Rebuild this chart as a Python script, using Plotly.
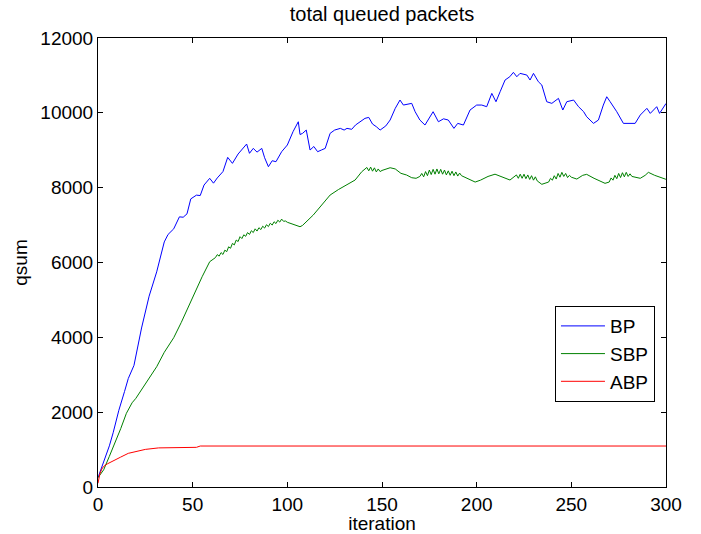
import plotly.graph_objects as go

# BP
bp_x = [0, 3, 6, 8, 11, 14, 16, 19, 23, 27, 31, 35, 37, 40, 43, 45, 47, 49, 52, 54, 56, 59, 61, 63, 66,
        68.5, 71, 74, 77, 78.5, 80, 82, 84, 86.5, 88, 90, 92, 94, 97, 100, 103, 105.8, 106.7, 108, 110,
        112, 114, 116, 118, 120, 122.6, 125, 128, 130, 131.5, 134, 136, 138.5, 141, 143, 145, 147, 149,
        152, 154.3, 157, 159.5, 161.3, 163, 165.7, 167.5, 170, 172.7, 175.4, 177, 179.8, 182.5, 185, 188,
        190, 193, 196.5, 200, 202.7, 205.3, 208, 210.2, 212.4, 215, 217.5, 219.4, 221.2, 222.9, 226.5,
        228.2, 230, 232.6, 234.4, 237, 239.7, 243.2, 245.5, 247.6, 251.2, 253.8, 256.5, 258.1, 261.7,
        264.3, 266.9, 268.7, 270.5, 274, 277.5, 283.7, 286.4, 289.9, 291.7, 295.1, 296.6, 299.6, 300]
bp_y = [250, 650, 1100, 1450, 2050, 2550, 2900, 3250, 4250, 5100, 5750, 6550, 6750, 6900, 7220, 7210, 7300,
        7700, 7800, 7790, 8070, 8250, 8120, 8260, 8430, 8810, 8650, 8900, 9094, 9166, 8918, 9050, 8950,
        9050, 8800, 8560, 8720, 8694, 8961, 9140, 9495, 9762, 9420, 9450, 9540, 9006, 9100, 8961, 9006,
        9050, 9452, 9540, 9585, 9540, 9585, 9560, 9674, 9762, 9852, 9878, 9700, 9630, 9540, 9650, 9808,
        10120, 10342, 10208, 10230, 10253, 10030, 9808, 9674, 9896, 10030, 9762, 9840, 9808, 9585, 9718,
        9674, 10075, 10208, 10208, 10164, 10520, 10297, 10565, 10877, 10965, 11082, 10965, 11055, 11010,
        10877, 11055, 10831, 10743, 10297, 10253, 10386, 10075, 10297, 10342, 10164, 10030, 9896, 9718,
        9808, 10208, 10430, 10297, 10030, 9718, 9718, 9941, 10120, 9985, 10164, 9985, 10253, 10250]

# SBP
sbp_x = [0, 3, 6, 9, 12, 15, 18, 20, 23, 26, 31, 35, 40, 44, 48.6, 52, 55, 59, 62,
         63, 64, 65, 66, 67, 68, 69, 70, 71, 72, 73, 74, 75, 76, 77, 78, 79, 80, 81, 82, 83, 84, 85, 86,
         87, 88, 89, 90, 91, 92, 93, 94, 95, 96, 97, 98, 99, 100,
         106.7, 108, 113.7, 117.3, 122.6, 127, 131.4, 135.8, 139.3,
         142, 143, 144, 145, 146, 147, 148, 149, 150, 154.3, 157, 160, 163, 165.7, 168, 170,
         171, 172, 173, 174, 175, 176, 177, 178, 179, 180, 181, 182, 183, 184, 185, 186, 187, 188, 189,
         190, 191, 192, 195, 199.2, 202, 206, 209.7, 213, 217.6,
         221, 222, 223, 224, 225, 226, 227, 228, 229, 230, 231, 232, 234.4,
         238, 239, 240, 241, 242, 243, 244, 245, 246, 247, 248, 249, 250, 252.9, 256, 258.1, 262, 267.8,
         270, 271, 272, 273, 274, 275, 276, 277, 278, 279, 280, 281, 282, 286.4, 289, 290.7, 294, 299.6, 300]
sbp_y = [250, 460, 820, 1170, 1560, 1970, 2250, 2370, 2600, 2820, 3215, 3600, 3990, 4400, 4909, 5300, 5620,
         6021, 6130,
         6210, 6170, 6265, 6215, 6330, 6290, 6420, 6380, 6510, 6470, 6600, 6560, 6690, 6640, 6740, 6700,
         6800, 6750, 6850, 6800, 6900, 6840, 6930, 6880, 6970, 6920, 7010, 6960, 7050, 7000, 7090, 7040,
         7130, 7080, 7160, 7100, 7110, 7075,
         6956, 6990, 7269, 7490, 7803, 7950, 8070, 8204, 8426,
         8540, 8450, 8550, 8440, 8530, 8420, 8500, 8430, 8460, 8533, 8500, 8383, 8338, 8266, 8250, 8300,
         8380, 8290, 8430, 8320, 8470, 8350, 8490, 8360, 8500, 8370, 8490, 8360, 8470, 8340, 8450, 8330,
         8440, 8320, 8420, 8310, 8390, 8320, 8250, 8150, 8200, 8300, 8360, 8300, 8204,
         8340, 8250, 8360, 8250, 8360, 8240, 8340, 8220, 8320, 8200, 8290, 8180, 8090,
         8150, 8250, 8200, 8320, 8230, 8380, 8280, 8410, 8300, 8380, 8270, 8330, 8280, 8230, 8330, 8356,
         8250, 8116,
         8150, 8260, 8200, 8330, 8240, 8380, 8270, 8400, 8290, 8410, 8300, 8370, 8300, 8250, 8330, 8410,
         8330, 8230, 8220]

# ABP
abp_x = [0, 1, 2, 3, 5, 8, 12, 16, 21, 25, 32, 43, 52, 54, 300]
abp_y = [100, 350, 480, 550, 620, 690, 800, 900, 965, 1005, 1045, 1060, 1060, 1095, 1095]

x_ticks = [0, 50, 100, 150, 200, 250, 300]
y_ticks = [0, 2000, 4000, 6000, 8000, 10000, 12000]

FONT = "Liberation Sans, Arial, Helvetica, sans-serif"
FS = 19

fig = go.Figure()
fig.add_trace(go.Scatter(x=bp_x, y=bp_y, mode="lines", name="BP",
                         line=dict(color="#0000ff", width=1)))
fig.add_trace(go.Scatter(x=sbp_x, y=sbp_y, mode="lines", name="SBP",
                         line=dict(color="#008000", width=1)))
fig.add_trace(go.Scatter(x=abp_x, y=abp_y, mode="lines", name="ABP",
                         line=dict(color="#ff0000", width=1)))

axis_common = dict(showline=True, linecolor="black", linewidth=1, mirror="ticks",
                   ticks="inside", ticklen=5, tickcolor="black", showgrid=False,
                   zeroline=False, automargin=False,
                   tickfont=dict(size=FS, color="black", family=FONT))

fig.update_layout(
    width=701, height=534,
    margin=dict(l=98, r=35, t=38, b=47, autoexpand=False),
    paper_bgcolor="white", plot_bgcolor="white",
    font=dict(family=FONT, color="black"),
    title=dict(text="total queued packets", x=0.5 * (98 + 666) / 701, xanchor="center",
               y=1 - 14 / 534, yanchor="middle", font=dict(size=20, color="black", family=FONT)),
    xaxis=dict(range=[0, 300], tickvals=x_ticks, ticktext=[str(v) for v in x_ticks],
               title=dict(text="iteration", font=dict(size=FS, family=FONT), standoff=0),
               **axis_common),
    yaxis=dict(range=[0, 12000], tickvals=y_ticks, ticktext=[str(v) for v in y_ticks],
               title=dict(text="qsum", font=dict(size=FS, family=FONT), standoff=7),
               **axis_common),
    legend=dict(x=0.9806, y=0.403, xanchor="right", yanchor="top",
                bgcolor="white", bordercolor="black", borderwidth=1,
                itemwidth=44,
                font=dict(size=FS, family=FONT, color="black")),
    showlegend=True,
)

fig.write_html("out.html", config={"displayModeBar": False},
               post_script="document.body.style.margin='0';document.body.style.padding='0';")
